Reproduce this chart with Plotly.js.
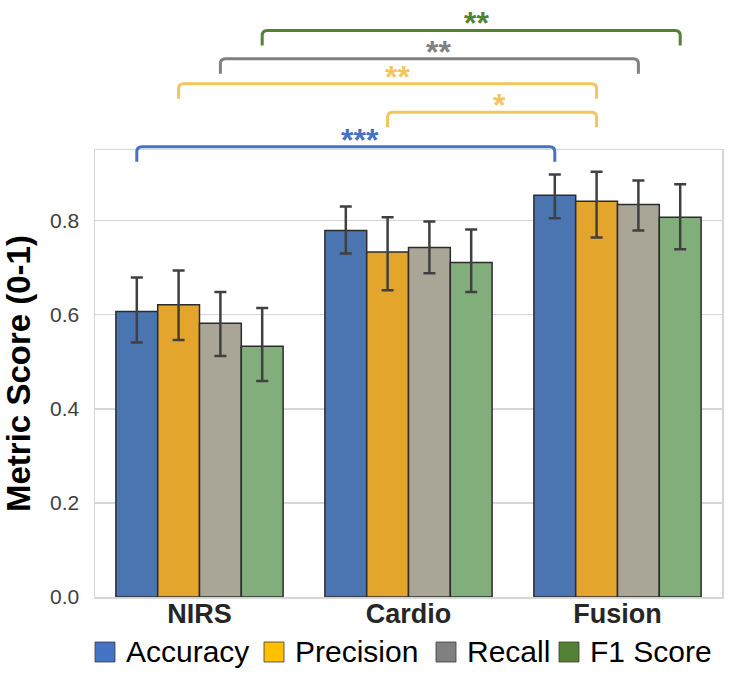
<!DOCTYPE html>
<html>
<head>
<meta charset="utf-8">
<script src="https://cdn.plot.ly/plotly-3.0.1.min.js"></script>
<style>html,body{margin:0;padding:0;background:#fff;}#chart{width:729px;height:676px;}</style>
</head>
<body>
<div id="chart"></div>
<script>
// ---- data ----
var categories = ['NIRS', 'Cardio', 'Fusion'];
var seriesNames = ['Accuracy', 'Precision', 'Recall', 'F1 Score'];
var accuracy   = [0.607, 0.779, 0.854];
var accErrHi   = [0.072, 0.051, 0.044];
var accErrLo   = [0.066, 0.049, 0.049];
var precision  = [0.621, 0.733, 0.841];
var precErrHi  = [0.073, 0.074, 0.063];
var precErrLo  = [0.075, 0.081, 0.077];
var recall     = [0.582, 0.743, 0.834];
var recErrHi   = [0.066, 0.055, 0.051];
var recErrLo   = [0.070, 0.055, 0.055];
var f1score    = [0.533, 0.711, 0.807];
var f1ErrHi    = [0.081, 0.070, 0.070];
var f1ErrLo    = [0.074, 0.063, 0.068];
var yTickVals  = [0.0, 0.2, 0.4, 0.6, 0.8];
// significance brackets: series index, from category, to category, level (score units), label
var bracketSeries = [0, 1, 1, 2, 3];
var bracketFrom   = [0, 1, 0, 0, 0];
var bracketTo     = [2, 2, 2, 2, 2];
var bracketLevel  = [0.957, 1.030, 1.091, 1.144, 1.204];
var bracketLabel  = ['***', '*', '**', '**', '**'];

// ---- styles ----
var barColors     = ['#4A75B0', '#E3A52B', '#A9A697', '#82AE7C'];
var legendColors  = ['#4472C4', '#FFC000', '#808080', '#548235'];
var bracketColors = ['#4472C4', '#F2C65C', '#808080', '#548235'];
var labelShiftPx  = [14, 7, 10, 9, 5];
var values = [accuracy, precision, recall, f1score];
var errHi  = [accErrHi, precErrHi, recErrHi, f1ErrHi];
var errLo  = [accErrLo, precErrLo, recErrLo, f1ErrLo];

var yMax = 0.95;
var bargap = 0.2;
var nSeries = seriesNames.length;
var nCat = categories.length;

var traces = seriesNames.map(function (name, k) {
  return {
    type: 'bar', name: name, x: categories, y: values[k],
    marker: { color: barColors[k], line: { color: '#2b2b2b', width: 1.5 } },
    error_y: { type: 'data', symmetric: false, array: errHi[k], arrayminus: errLo[k],
               color: '#404040', thickness: 2.5, width: 6 },
    showlegend: false, hoverinfo: 'skip'
  };
});

// helpers that map data to paper coords through the axis ranges
function barPaperX(cat, k) {
  var w = (1 - bargap) / nSeries;
  var xData = cat - (1 - bargap) / 2 + w * (k + 0.5);
  return (xData + 0.5) / nCat;
}
function levelPaperY(v) { return v / yMax; }

var plotW = 729 - 95 - 7, plotH = 676 - 150 - 79;
var shapes = [], annotations = [];
var rx = 5 / plotW, ry = 5 / plotH, drop = 15 / plotH;
for (var i = 0; i < bracketSeries.length; i++) {
  var k = bracketSeries[i];
  var x1 = barPaperX(bracketFrom[i], k), x2 = barPaperX(bracketTo[i], k);
  var yt = levelPaperY(bracketLevel[i]), yb = yt - drop;
  var path = 'M ' + x1 + ',' + yb + ' L ' + x1 + ',' + (yt - ry) +
             ' Q ' + x1 + ',' + yt + ' ' + (x1 + rx) + ',' + yt +
             ' L ' + (x2 - rx) + ',' + yt +
             ' Q ' + x2 + ',' + yt + ' ' + x2 + ',' + (yt - ry) +
             ' L ' + x2 + ',' + yb;
  shapes.push({ type: 'path', xref: 'paper', yref: 'paper', path: path,
                line: { color: bracketColors[k], width: 3 } });
  annotations.push({ xref: 'paper', yref: 'paper', x: (x1 + x2) / 2 + labelShiftPx[i] / plotW, y: yt,
                     yanchor: 'middle', xanchor: 'center', yshift: 7,
                     text: '<b>' + bracketLabel[i] + '</b>', showarrow: false,
                     font: { family: 'Liberation Sans, Arial, sans-serif', size: 32, color: bracketColors[k] } });
}

// custom legend row below the x axis
var legendStartsPx = [95, 264, 436, 559];
var sq = 20;
seriesNames.forEach(function (name, k) {
  var x0 = (legendStartsPx[k] - 95) / plotW;
  var y0 = (597 - 662) / plotH;
  shapes.push({ type: 'rect', xref: 'paper', yref: 'paper',
                x0: x0, x1: x0 + sq / plotW, y0: y0, y1: y0 + sq / plotH,
                fillcolor: legendColors[k], line: { color: '#3a3a3a', width: 0.8 } });
  annotations.push({ xref: 'paper', yref: 'paper', x: x0 + (sq + 9) / plotW, y: (597 - 651) / plotH,
                     xanchor: 'left', yanchor: 'middle', text: name, showarrow: false,
                     font: { family: 'Liberation Sans, Arial, sans-serif', size: 30, color: '#000' } });
});

var layout = {
  width: 729, height: 676,
  margin: { l: 95, r: 7, t: 150, b: 79, pad: 0 },
  paper_bgcolor: '#fff', plot_bgcolor: '#fff',
  barmode: 'group', bargap: bargap, bargroupgap: 0,
  font: { family: 'Liberation Sans, Arial, sans-serif' },
  xaxis: {
    type: 'category', range: [-0.5, nCat - 0.5], showgrid: false,
    showline: true, linecolor: '#d6d6d6', linewidth: 1.5, mirror: true,
    ticks: '', tickfont: { size: 27, color: '#262626', family: 'Liberation Sans, Arial, sans-serif', weight: 'bold' },
    ticklabelstandoff: -8
  },
  yaxis: {
    range: [0, yMax], tickvals: yTickVals, tickformat: '.1f',
    showgrid: true, gridcolor: '#d6d6d6', gridwidth: 1.5,
    showline: true, linecolor: '#d6d6d6', linewidth: 1.5, mirror: true,
    zeroline: false, ticks: '', ticklabelstandoff: 10,
    tickfont: { size: 21, color: '#404040' },
    title: { text: '<b>Metric Score (0-1)</b>', font: { size: 33, color: '#000' }, standoff: 14 }
  },
  shapes: shapes, annotations: annotations, showlegend: false
};

Plotly.newPlot('chart', traces, layout, { displayModeBar: false, staticPlot: true });
</script>
</body>
</html>
